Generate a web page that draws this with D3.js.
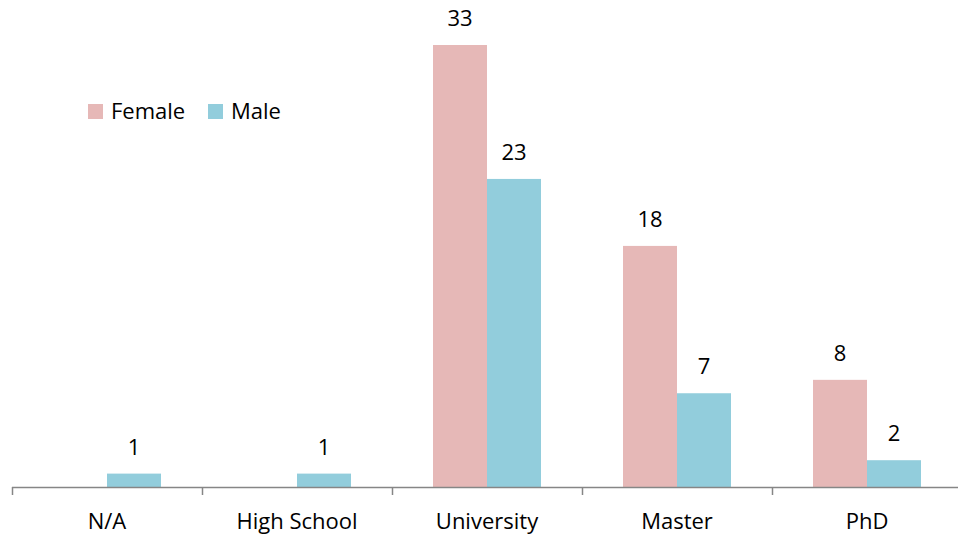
<!DOCTYPE html>
<html>
<head>
<meta charset="utf-8">
<script src="https://cdn.jsdelivr.net/npm/d3@7"></script>
<style>
  body { margin: 0; background: #fff; }
  svg text { font-family: "Open Sans", sans-serif; fill: #000; }
</style>
</head>
<body>
<svg id="chart" width="958" height="535"></svg>
<script>
var categories = ["N/A", "High School", "University", "Master", "PhD"];
var seriesNames = ["Female", "Male"];
var femaleValues = [0, 0, 33, 18, 8];
var maleValues = [1, 1, 23, 7, 2];
var colors = ["#e6b8b7", "#92cddc"];

var svg = d3.select("#chart");

// plot area, axis runs off the right edge like the original
var x0 = 12, x1 = 962, yBase = 487, yTop = 45;
var fontSize = "22px";

var x = d3.scaleBand().domain(categories).range([x0, x1]).paddingInner(0).paddingOuter(0);
var xs = d3.scaleBand().domain(seriesNames).range([0, 108]);
var y = d3.scaleLinear().domain([0, 33]).range([yBase, yTop]);

var rows = categories.map(function(c, i) {
    return { cat: c, vals: [femaleValues[i], maleValues[i]] };
});

var g = svg.selectAll("g.cat").data(rows).enter()
    .append("g")
    .attr("class", "cat")
    .attr("transform", function(d) { return "translate(" + (x(d.cat) + (x.bandwidth() - 108) / 2) + ",0)"; });

g.selectAll("rect").data(function(d) {
        return d.vals.map(function(v, j) { return { s: seriesNames[j], v: v, j: j }; });
    }).enter()
    .filter(function(d) { return d.v > 0; })
    .append("rect")
    .attr("x", function(d) { return xs(d.s); })
    .attr("width", xs.bandwidth())
    .attr("y", function(d) { return y(d.v); })
    .attr("height", function(d) { return yBase - y(d.v); })
    .attr("fill", function(d) { return colors[d.j]; });

g.selectAll("text.val").data(function(d) {
        return d.vals.map(function(v, j) { return { s: seriesNames[j], v: v }; });
    }).enter()
    .filter(function(d) { return d.v > 0; })
    .append("text")
    .attr("class", "val")
    .attr("x", function(d) { return xs(d.s) + xs.bandwidth() / 2; })
    .attr("y", function(d) { return y(d.v) - 19; })
    .attr("text-anchor", "middle")
    .style("font-size", fontSize)
    .text(function(d) { return d.v; });

// x axis
var axis = d3.axisBottom(x).tickSize(0).tickPadding(0);
var ax = svg.append("g").attr("transform", "translate(0," + yBase + ")").call(axis);
ax.select(".domain").remove();
ax.selectAll(".tick line").remove();
ax.selectAll(".tick text")
    .attr("y", 42)
    .attr("dy", null)
    .style("font-size", fontSize)
    .style("font-family", null)
    .attr("fill", "#000");

svg.append("line")
    .attr("x1", x0).attr("x2", 958)
    .attr("y1", yBase + 0.5).attr("y2", yBase + 0.5)
    .attr("stroke", "#868686").attr("stroke-width", 1.5);

svg.selectAll("line.tk").data(categories).enter()
    .append("line")
    .attr("class", "tk")
    .attr("x1", function(d) { return Math.round(x(d)) + 0.5; })
    .attr("x2", function(d) { return Math.round(x(d)) + 0.5; })
    .attr("y1", yBase).attr("y2", yBase + 8)
    .attr("stroke", "#868686").attr("stroke-width", 1.5);

// legend
var legX = [88, 208];
var leg = svg.selectAll("g.leg").data(seriesNames).enter()
    .append("g")
    .attr("class", "leg")
    .attr("transform", function(d, i) { return "translate(" + legX[i] + ",104)"; });
leg.append("rect").attr("width", 15).attr("height", 15)
    .attr("fill", function(d, i) { return colors[i]; });
leg.append("text").attr("x", 23).attr("y", 15)
    .style("font-size", fontSize)
    .text(function(d) { return d; });
</script>
</body>
</html>
